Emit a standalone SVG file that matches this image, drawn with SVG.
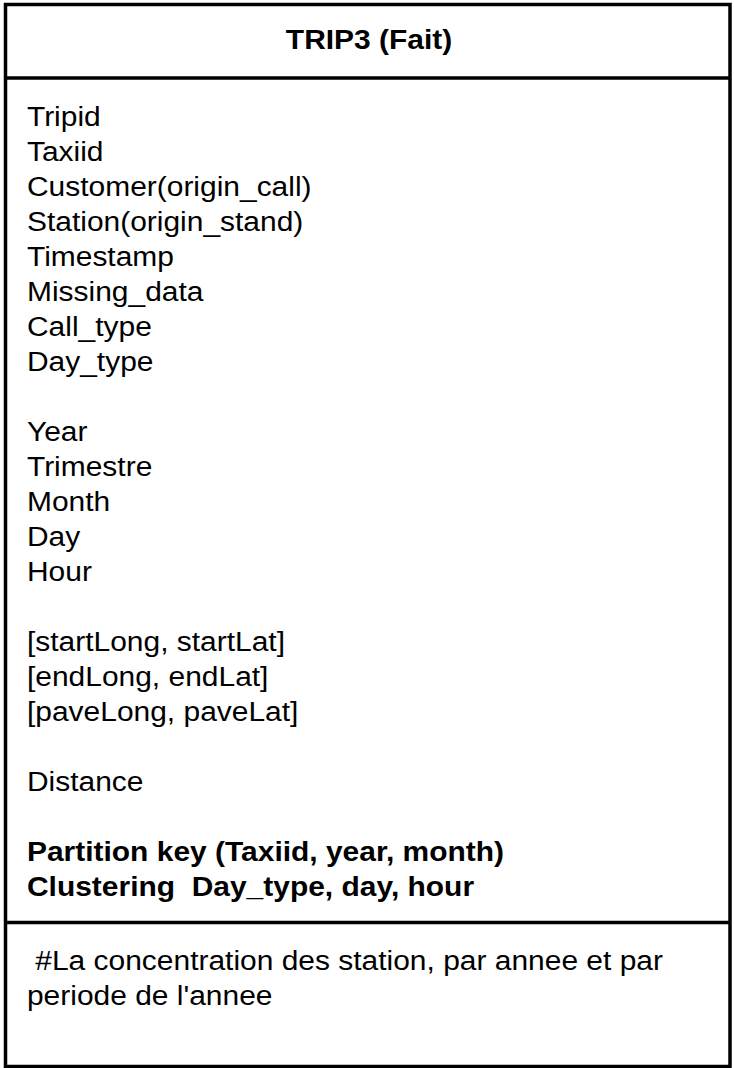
<svg xmlns="http://www.w3.org/2000/svg" width="734" height="1068" viewBox="0 0 734 1068">
<style>
.t{font-family:"Liberation Sans",Arial,sans-serif;font-size:28px;fill:#000}
.b{font-weight:bold}
.ln{stroke:#000;stroke-width:3.5;fill:none}
</style>
<rect width="734" height="1068" fill="#fff"/>
<g id="trip3">
<rect class="ln" x="5.5" y="4.5" width="724.5" height="1062"/>
<line class="ln" x1="5.5" y1="78" x2="730" y2="78"/>
<line class="ln" x1="5.5" y1="922.5" x2="730" y2="922.5"/>
<g transform="scale(1.07,1)">
<text class="t b" x="344.9" y="49" text-anchor="middle">TRIP3 (Fait)</text>
<text class="t" x="25.2" y="126">Tripid</text>
<text class="t" x="25.2" y="161">Taxiid</text>
<text class="t" x="25.2" y="196">Customer(origin_call)</text>
<text class="t" x="25.2" y="231">Station(origin_stand)</text>
<text class="t" x="25.2" y="266">Timestamp</text>
<text class="t" x="25.2" y="301">Missing_data</text>
<text class="t" x="25.2" y="336">Call_type</text>
<text class="t" x="25.2" y="371">Day_type</text>
<text class="t" x="25.2" y="441">Year</text>
<text class="t" x="25.2" y="476">Trimestre</text>
<text class="t" x="25.2" y="511">Month</text>
<text class="t" x="25.2" y="546">Day</text>
<text class="t" x="25.2" y="581">Hour</text>
<text class="t" x="25.2" y="651">[startLong, startLat]</text>
<text class="t" x="25.2" y="686">[endLong, endLat]</text>
<text class="t" x="25.2" y="721">[paveLong, paveLat]</text>
<text class="t" x="25.2" y="791">Distance</text>
<text class="t b" x="25.2" y="861">Partition key (Taxiid, year, month)</text>
<text class="t b" x="25.2" y="896" xml:space="preserve">Clustering  Day_type, day, hour</text>
<text class="t" x="25.2" y="970" xml:space="preserve"> #La concentration des station, par annee et par</text>
<text class="t" x="25.2" y="1005">periode de l'annee</text>
</g>
</g>
</svg>
